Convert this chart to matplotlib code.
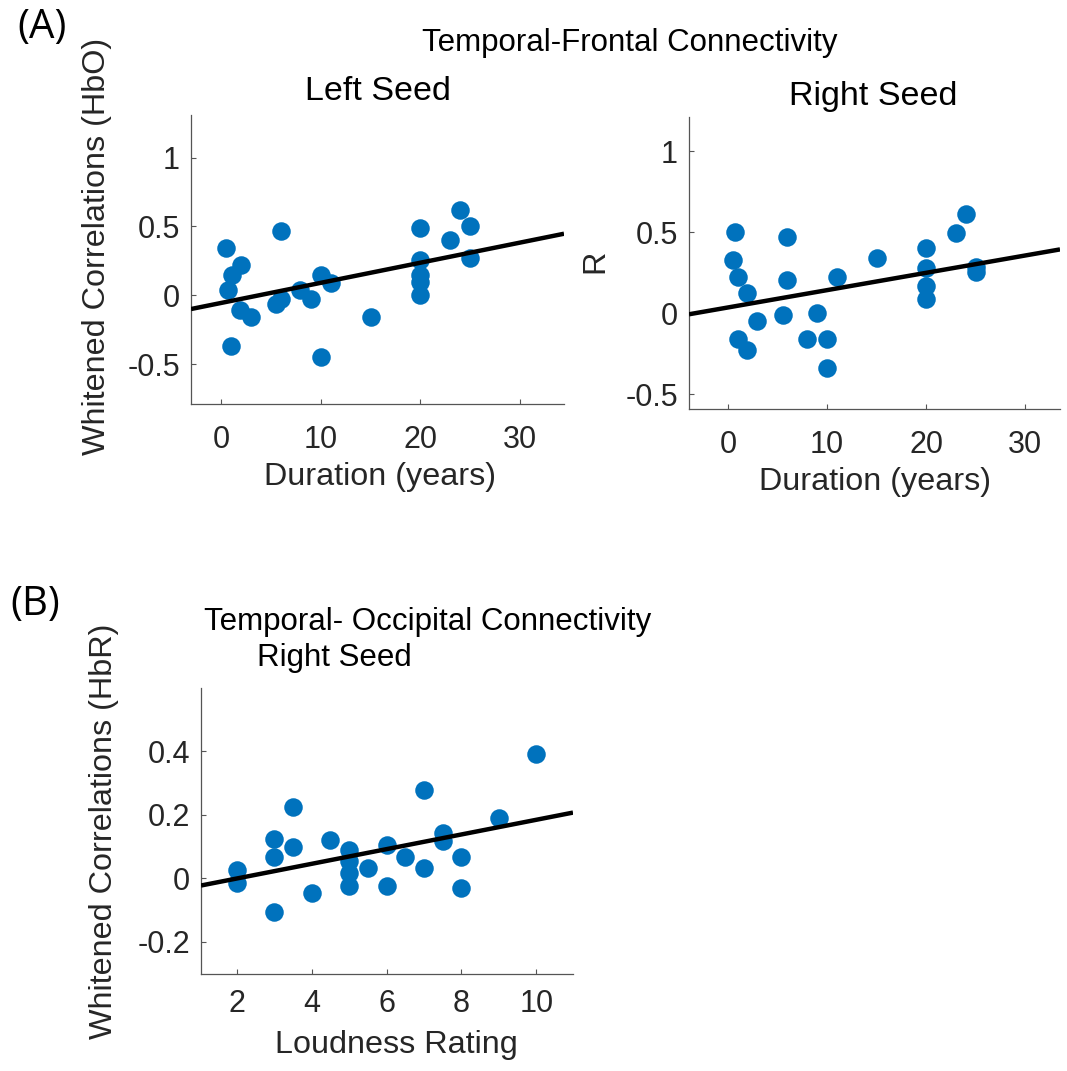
import matplotlib
matplotlib.use("Agg")
import matplotlib.pyplot as plt
from matplotlib import font_manager as fm
import numpy as np

# ---------------- data ----------------
left_dur = [0.5, 1.07, 2.0, 0.74, 1.9, 3.0, 1.0, 6.0, 5.5, 6.0, 7.9, 9.0, 10.0, 11.0,
            10.0, 15.0, 20.0, 20.0, 20.0, 20.0, 20.0, 23.0, 24.0, 25.0, 25.0]
left_r = [0.34, 0.15, 0.22, 0.04, -0.11, -0.16, -0.37, 0.47, -0.065, -0.024, 0.036, -0.03,
          0.15, 0.09, -0.45, -0.16, 0.49, 0.26, 0.145, 0.10, 0.0, 0.40, 0.62, 0.50, 0.27]
left_fit = (0.01463, -0.056)  # slope, intercept

right_dur = [0.74, 0.5, 1.0, 1.95, 2.97, 1.0, 1.95, 6.0, 6.0, 5.5, 8.0, 9.0, 10.0, 10.0,
             11.0, 15.0, 20.0, 20.0, 20.0, 20.0, 23.0, 24.0, 25.0, 25.0]
right_r = [0.50, 0.33, 0.226, 0.123, -0.05, -0.16, -0.226, 0.47, 0.205, -0.01, -0.16, 0.0,
           -0.16, -0.34, 0.226, 0.34, 0.40, 0.277, 0.168, 0.086, 0.497, 0.61, 0.287, 0.257]
right_fit = (0.01068, 0.036)

loud = [2, 2, 3, 3, 3, 3.5, 3.5, 4, 4.5, 5, 5, 5, 5, 5.5, 6, 6, 6.5, 7, 7, 7.5, 7.5, 8, 8, 9, 10]
loud_r = [0.026, -0.014, 0.123, 0.068, -0.105, 0.226, 0.098, -0.047, 0.121, 0.089, 0.053,
          0.016, -0.026, 0.032, 0.105, -0.026, 0.068, 0.277, 0.032, 0.142, 0.116, 0.066,
          -0.032, 0.19, 0.393]
loud_fit = (0.02314, -0.047)

dur_ticks = [0, 10, 20, 30]
a_yticks = [-0.5, 0, 0.5, 1]
a_yticklabels = ["-0.5", "0", "0.5", "1"]
b_xticks = [2, 4, 6, 8, 10]
b_yticks = [-0.2, 0, 0.2, 0.4]
b_yticklabels = ["-0.2", "0", "0.2", "0.4"]

# ---------------- style ----------------
W, H = 1067, 1071
DPI = 100
BLUE = "#0072BD"
AXC = "#262626"
names = {f.name for f in fm.fontManager.ttflist}
BASE = "Liberation Sans"
NARROW = "Liberation Sans Narrow" if "Liberation Sans Narrow" in names else BASE
title_size = 27 if NARROW != BASE else 22.5
seed_size = 29.5 if NARROW != BASE else 24.5
plt.rcParams["font.family"] = [BASE, "DejaVu Sans"]

fig = plt.figure(figsize=(W / DPI, H / DPI), dpi=DPI)


def px_axes(l, t, r, b):
    return fig.add_axes([l / W, 1 - b / H, (r - l) / W, (b - t) / H])


def ftext(x, y, s, color="black", **kw):
    fig.text(x / W, 1 - y / H, s, ha="center", va="center", color=color, **kw)


def style(ax, xlim, ylim, xticks, yticks, yticklabels, xpad):
    ax.set_xlim(*xlim)
    ax.set_ylim(*ylim)
    ax.set_xticks(xticks)
    ax.set_yticks(yticks)
    ax.set_yticklabels(yticklabels)
    for s in ("top", "right"):
        ax.spines[s].set_visible(False)
    for s in ("left", "bottom"):
        ax.spines[s].set_color("#555555")
        ax.spines[s].set_linewidth(0.9)
    ax.tick_params(direction="in", length=3.5, width=0.8, color="#555555",
                   labelsize=22, labelcolor=AXC)
    ax.tick_params(axis="y", pad=8)
    ax.tick_params(axis="x", pad=xpad)


def draw(ax, x, y, fit, xlim):
    ax.scatter(x, y, s=178, color=BLUE, linewidths=0, zorder=2)
    xs = np.array(xlim)
    ax.plot(xs, fit[0] * xs + fit[1], color="black", lw=3.2, zorder=3,
            solid_capstyle="butt", clip_on=True)


# panel A left
ax1 = px_axes(191, 115, 564, 404)
xl1 = (-3.0, 34.4)
draw(ax1, left_dur, left_r, left_fit, xl1)
style(ax1, xl1, (-0.79, 1.31), dur_ticks, a_yticks, a_yticklabels, 15)

# panel A right
ax2 = px_axes(689, 117, 1060, 409)
xl2 = (-3.94, 33.5)
draw(ax2, right_dur, right_r, right_fit, xl2)
style(ax2, xl2, (-0.59, 1.21), dur_ticks, a_yticks, a_yticklabels, 15)

# panel B
ax3 = px_axes(201, 688, 573, 974)
xl3 = (1.04, 10.98)
draw(ax3, loud, loud_r, loud_fit, xl3)
style(ax3, xl3, (-0.302, 0.60), b_xticks, b_yticks, b_yticklabels, 11)

# texts
ftext(42, 28, "(A)", fontsize=29, family=["Open Sans", BASE])
ftext(35, 605, "(B)", fontsize=29, family=["Open Sans", BASE])
ftext(630, 43, "Temporal-Frontal Connectivity", fontsize=title_size, family=NARROW)
ftext(378, 92, "Left Seed", fontsize=seed_size, family=NARROW)
ftext(873, 97, "Right Seed", fontsize=seed_size, family=NARROW)
ftext(428, 622, "Temporal- Occipital Connectivity", fontsize=title_size, family=NARROW)
ftext(334, 658, "Right Seed", fontsize=title_size, family=NARROW)

ftext(97, 246, "Whitened Correlations (HbO)", fontsize=23.3, rotation=90, color=AXC)
ftext(595, 261, "R", fontsize=23.3, rotation=90, color=AXC)
ftext(104, 831, "Whitened Correlations (HbR)", fontsize=23.3, rotation=90, color=AXC)
ftext(380, 477, "Duration (years)", fontsize=23.3, color=AXC)
ftext(875, 482, "Duration (years)", fontsize=23.3, color=AXC)
ftext(396, 1045, "Loudness Rating", fontsize=23.3, color=AXC)

fig.savefig("out.png", dpi=DPI)
